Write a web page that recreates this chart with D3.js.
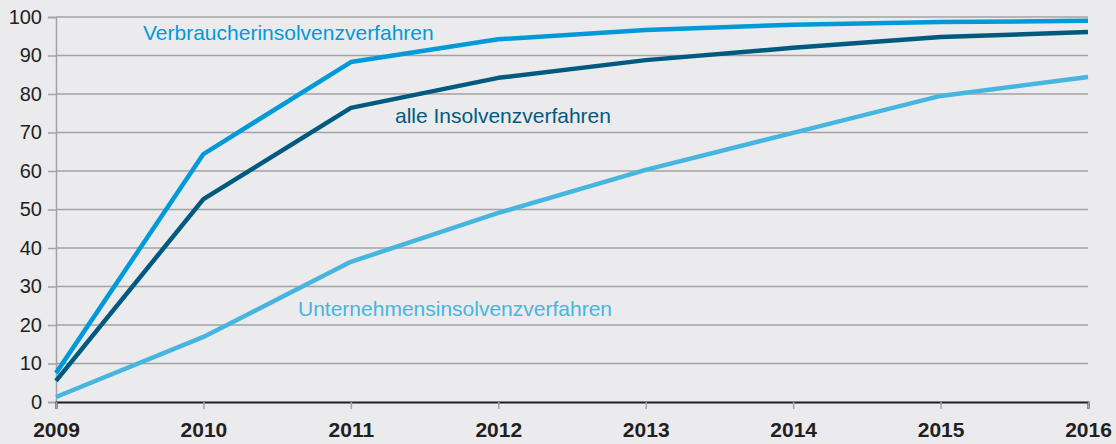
<!DOCTYPE html>
<html>
<head>
<meta charset="utf-8">
<script src="https://cdn.jsdelivr.net/npm/d3@7"></script>
<style>
  body { margin: 0; background: #ebebed; }
  svg { display: block; font-family: "Liberation Sans", Arial, Helvetica, sans-serif; }
</style>
</head>
<body>
<div id="container"></div>
<script>

var years = [2009, 2010, 2011, 2012, 2013, 2014, 2015, 2016];

var verbraucher = [7.5, 64.4, 88.3, 94.2, 96.6, 98.0, 98.7, 99.0];
var alle = [5.5, 52.7, 76.4, 84.2, 88.8, 92.0, 94.8, 96.1];
var unternehmen = [1.3, 16.9, 36.4, 49.1, 60.3, 69.9, 79.5, 84.4];

var yTicks = [0, 10, 20, 30, 40, 50, 60, 70, 80, 90, 100];

var seriesNames = ["Verbraucherinsolvenzverfahren", "alle Insolvenzverfahren", "Unternehmensinsolvenzverfahren"];

var width = 1116, height = 444;
var margin = {top: 17, right: 28, bottom: 42, left: 56};

var svg = d3.select("#container")
    .append("svg")
    .attr("width", width)
    .attr("height", height);

svg.append("rect").attr("width", width).attr("height", height).attr("fill", "#ebebed");

var x = d3.scaleLinear()
    .domain([2009, 2016])
    .range([margin.left, width - margin.right]);

var y = d3.scaleLinear()
    .domain([0, 100])
    .range([height - margin.bottom, margin.top]);

//  gridlines + y labels
var yAxis = svg.append("g")
    .attr("class", "axis-left")
    .attr("transform", "translate(" + margin.left + ",0)")
    .call(d3.axisLeft(y).tickValues(yTicks).tickSize(8).tickPadding(6));

yAxis.select(".domain").attr("stroke", "#a3a3a5").attr("stroke-width", 1.5);
yAxis.selectAll(".tick line").attr("stroke", "#a3a3a5").attr("stroke-width", 1.5);
yAxis.selectAll(".tick text")
    .attr("fill", "#231f20")
    .style("font-size", "20px");

svg.append("g")
    .selectAll("line")
    .data(yTicks.filter(function(d){ return d > 0; }))
    .enter()
    .append("line")
    .attr("x1", margin.left)
    .attr("x2", width - margin.right)
    .attr("y1", function(d){ return y(d); })
    .attr("y2", function(d){ return y(d); })
    .attr("stroke", "#a3a3a5")
    .attr("stroke-width", 1.5);

//  bottom axis
var xAxis = svg.append("g")
    .attr("class", "axis-bottom")
    .attr("transform", "translate(0," + y(0) + ")")
    .call(d3.axisBottom(x).tickValues(years).tickFormat(d3.format("d")).tickSize(7).tickPadding(13));

xAxis.select(".domain").attr("stroke", "#231f20").attr("stroke-width", 2);
xAxis.selectAll(".tick line").attr("stroke", "#a3a3a5").attr("stroke-width", 1.5);
xAxis.selectAll(".tick text")
    .attr("fill", "#231f20")
    .style("font-size", "21px")
    .style("font-weight", "bold");

//  lines
var line = d3.line()
    .x(function(d, i){ return x(years[i]); })
    .y(function(d){ return y(d); });

var series = [
    {name: seriesNames[2], values: unternehmen, color: "#46b5e0"},
    {name: seriesNames[1], values: alle, color: "#005a80"},
    {name: seriesNames[0], values: verbraucher, color: "#009ad8"}
];

svg.selectAll(".line")
    .data(series)
    .enter()
    .append("path")
    .attr("class", "line")
    .attr("d", function(d){ return line(d.values); })
    .attr("fill", "none")
    .attr("stroke", function(d){ return d.color; })
    .attr("stroke-width", 4.5)
    .attr("stroke-linejoin", "round");

//  labels
var labels = [
    {text: seriesNames[0], x: 143, y: 40, color: "#009ad8"},
    {text: seriesNames[1], x: 395, y: 123, color: "#005a80"},
    {text: seriesNames[2], x: 298, y: 316, color: "#46b5e0"}
];

svg.selectAll(".series-label")
    .data(labels)
    .enter()
    .append("text")
    .attr("class", "series-label")
    .attr("x", function(d){ return d.x; })
    .attr("y", function(d){ return d.y; })
    .attr("fill", function(d){ return d.color; })
    .style("font-size", "21px")
    .text(function(d){ return d.text; });

</script>
</body>
</html>
